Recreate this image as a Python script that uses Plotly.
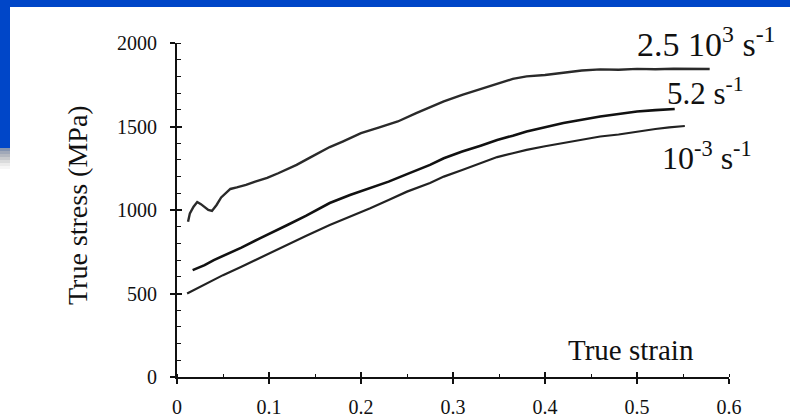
import plotly.graph_objects as go

# True stress-strain curves at three strain rates
strain_fast = [0.012, 0.014, 0.018, 0.022, 0.026, 0.030, 0.034, 0.038, 0.043, 0.048,
               0.053, 0.058, 0.065, 0.075, 0.085, 0.098, 0.110, 0.120, 0.130, 0.145,
               0.166, 0.180, 0.200, 0.220, 0.240, 0.260, 0.275, 0.290, 0.310, 0.330,
               0.348, 0.365, 0.380, 0.400, 0.420, 0.440, 0.460, 0.480, 0.500, 0.520,
               0.540, 0.560, 0.579]
stress_fast = [930, 980, 1020, 1048, 1035, 1015, 1000, 994, 1030, 1075,
               1100, 1126, 1135, 1150, 1170, 1192, 1220, 1245, 1270, 1315,
               1377, 1410, 1460, 1495, 1530, 1580, 1617, 1650, 1690, 1725,
               1760, 1785, 1800, 1808, 1822, 1835, 1842, 1840, 1845, 1843,
               1846, 1844, 1844]

strain_mid = [0.017, 0.030, 0.040, 0.050, 0.070, 0.090, 0.100, 0.120, 0.140, 0.166,
              0.188, 0.210, 0.230, 0.250, 0.275, 0.290, 0.310, 0.330, 0.348, 0.365,
              0.380, 0.400, 0.420, 0.440, 0.460, 0.480, 0.500, 0.520, 0.541]
stress_mid = [640, 670, 700, 725, 775, 830, 858, 910, 965, 1042,
              1090, 1130, 1170, 1215, 1270, 1310, 1350, 1385, 1419, 1445,
              1470, 1495, 1521, 1540, 1560, 1575, 1590, 1598, 1605]

strain_slow = [0.011, 0.020, 0.030, 0.050, 0.070, 0.100, 0.120, 0.140, 0.166, 0.188,
               0.210, 0.230, 0.250, 0.275, 0.290, 0.310, 0.330, 0.348, 0.365, 0.380,
               0.400, 0.420, 0.440, 0.460, 0.480, 0.500, 0.520, 0.535, 0.552]
stress_slow = [500, 525, 555, 610, 660, 740, 795, 845, 910, 958,
               1010, 1060, 1110, 1162, 1200, 1240, 1280, 1317, 1340, 1360,
               1382, 1401, 1420, 1440, 1452, 1470, 1485, 1495, 1503]

x_ticks = [0, 0.1, 0.2, 0.3, 0.4, 0.5, 0.6]
x_tick_text = ["0", "0.1", "0.2", "0.3", "0.4", "0.5", "0.6"]
y_ticks = [0, 500, 1000, 1500, 2000]
y_tick_text = ["0", "500", "1000", "1500", "2000"]

rate_labels = ["2.5 10<sup>3</sup> s<sup>-1</sup>", "5.2 s<sup>-1</sup>", "10<sup>-3</sup> s<sup>-1</sup>"]

SERIF = "Liberation Serif, Times New Roman, serif"
INK = "#111111"
BLUE = "#0046c8"

fig = go.Figure()
fig.add_trace(go.Scatter(x=strain_fast, y=stress_fast, mode="lines",
                         line=dict(color="#2a2a2a", width=2.4), showlegend=False))
fig.add_trace(go.Scatter(x=strain_mid, y=stress_mid, mode="lines",
                         line=dict(color=INK, width=2.6), showlegend=False))
fig.add_trace(go.Scatter(x=strain_slow, y=stress_slow, mode="lines",
                         line=dict(color="#222222", width=2.2), showlegend=False))
# empty trace so the overlay axes (inner tick halves) get drawn
fig.add_trace(go.Scatter(x=[], y=[], xaxis="x2", yaxis="y2", showlegend=False))

L, R, T, B = 177, 61, 43, 41
W, H = 790, 418
pw, ph = W - L - R, H - T - B

def px(xp):
    return (xp - L) / pw

def py(yp):
    return (H - B - yp) / ph

shapes = [
    # slide frame: top band and left strip
    dict(type="rect", xref="paper", yref="paper", x0=px(0), x1=px(W), y0=py(7), y1=py(0),
         fillcolor=BLUE, line_width=0, layer="below"),
    dict(type="rect", xref="paper", yref="paper", x0=px(0), x1=px(10), y0=py(148), y1=py(0),
         fillcolor=BLUE, line_width=0, layer="below"),
]
fade = ["#8494b0", "#a0a8b8", "#b4b8c0", "#c8cacd", "#dadbdc", "#ebebeb", "#f6f6f6"]
for i, c in enumerate(fade):
    shapes.append(dict(type="rect", xref="paper", yref="paper",
                       x0=px(0), x1=px(10), y0=py(148 + 3 * (i + 1)), y1=py(148 + 3 * i),
                       fillcolor=c, line_width=0, layer="below"))

# curve labels and titles, placed in paper space
annotations = [
    dict(text=rate_labels[0], x=px(706), y=py(42), xref="paper", yref="paper", showarrow=False,
         font=dict(family=SERIF, size=34, color=INK), xanchor="center", yanchor="middle"),
    dict(text=rate_labels[1], x=px(705), y=py(91), xref="paper", yref="paper", showarrow=False,
         font=dict(family=SERIF, size=31, color=INK), xanchor="center", yanchor="middle"),
    dict(text=rate_labels[2], x=px(707), y=py(156), xref="paper", yref="paper", showarrow=False,
         font=dict(family=SERIF, size=32, color=INK), xanchor="center", yanchor="middle"),
    dict(text="True strain", x=px(631), y=py(350), xref="paper", yref="paper", showarrow=False,
         font=dict(family=SERIF, size=29, color=INK), xanchor="center", yanchor="middle"),
    dict(text="True stress (MPa)", x=px(77), y=py(205), xref="paper", yref="paper",
         showarrow=False, textangle=-90, font=dict(family=SERIF, size=28, color=INK),
         xanchor="center", yanchor="middle"),
]

axis_common = dict(showgrid=False, zeroline=False, linecolor=INK, linewidth=2,
                   tickcolor=INK, tickwidth=1.5, ticklen=5, ticks="outside",
                   automargin=False,
                   tickfont=dict(family=SERIF, size=20, color=INK))

fig.update_layout(
    width=W, height=H,
    margin=dict(l=L, r=R, t=T, b=B, pad=0),
    paper_bgcolor="white", plot_bgcolor="white",
    shapes=shapes, annotations=annotations,
    xaxis=dict(range=[0, 0.6], tickvals=x_ticks, ticktext=x_tick_text,
               showline=True, ticklabelstandoff=6,
               minor=dict(dtick=0.05, ticks="inside", ticklen=3, tickcolor=INK, tickwidth=1),
               **axis_common),
    yaxis=dict(range=[0, 2000], tickvals=y_ticks, ticktext=y_tick_text,
               showline=True, ticklabelstandoff=9,
               minor=dict(dtick=100, ticks="inside", ticklen=4, tickcolor=INK, tickwidth=1),
               **axis_common),
    xaxis2=dict(overlaying="x", anchor="y", range=[0, 0.6], tickvals=x_ticks,
                showticklabels=False, showline=False, showgrid=False, zeroline=False,
                automargin=False,
                ticks="inside", ticklen=5, tickcolor=INK, tickwidth=1.5),
    yaxis2=dict(overlaying="y", anchor="x", range=[0, 2000], tickvals=y_ticks,
                showticklabels=False, showline=False, showgrid=False, zeroline=False,
                automargin=False,
                ticks="inside", ticklen=5, tickcolor=INK, tickwidth=1.5),
)

fig.write_html("out.html")
